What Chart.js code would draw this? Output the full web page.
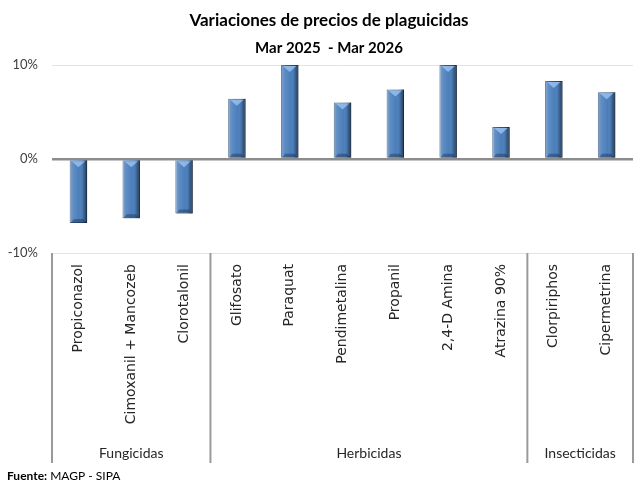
<!DOCTYPE html>
<html>
<head>
<meta charset="utf-8">
<script src="https://cdn.jsdelivr.net/npm/chart.js@4.4.1/dist/chart.umd.min.js"></script>
<style>
  html, body { margin: 0; padding: 0; background: #fff; }
  #wrap { width: 635px; height: 481px; }
</style>
</head>
<body>
<div id="wrap"><canvas id="mycanvas"></canvas></div>
<script>
// datos (variacion % mar 2025 - mar 2026)
var productos = ['Propiconazol', 'Cimoxanil + Mancozeb', 'Clorotalonil', 'Glifosato', 'Paraquat',
  'Pendimetalina', 'Propanil', '2,4-D Amina', 'Atrazina 90%', 'Clorpiriphos', 'Cipermetrina'];
var variacion = [-6.8, -6.3, -5.8, 6.4, 10, 6.0, 7.4, 10, 3.4, 8.3, 7.1];
var grupos = ['Fungicidas', 'Herbicidas', 'Insecticidas'];
var productosPorGrupo = [3, 6, 2];
var yMin = -10, yMax = 10, yPaso = 10;
var titulo = 'Variaciones de precios de plaguicidas';
var subtitulo = 'Mar 2025  - Mar 2026';

var barras3d = {
  id: 'barras3d',
  afterDatasetsDraw: function(chart) {
    var ctx = chart.ctx, area = chart.chartArea;
    var meta = chart.getDatasetMeta(0);
    ctx.save();
    ctx.beginPath();
    ctx.rect(area.left, area.top, area.right - area.left, area.bottom - area.top);
    ctx.clip();
    meta.data.forEach(function(bar) {
      var p = bar.getProps(['x', 'y', 'base', 'width'], true);
      var l = p.x - p.width / 2, r = p.x + p.width / 2;
      var t = Math.max(Math.min(p.y, p.base), area.top), b = Math.max(p.y, p.base);
      var g = ctx.createLinearGradient(l, 0, r, 0);
      g.addColorStop(0, 'rgba(255,255,255,0.30)');
      g.addColorStop(0.2, 'rgba(255,255,255,0.12)');
      g.addColorStop(0.55, 'rgba(255,255,255,0)');
      g.addColorStop(0.8, 'rgba(0,0,0,0.18)');
      g.addColorStop(1, 'rgba(0,0,0,0.55)');
      ctx.fillStyle = g;
      ctx.fillRect(l, t, r - l, b - t);
      // bisel superior
      ctx.fillStyle = 'rgba(160,200,245,0.75)';
      ctx.beginPath();
      ctx.moveTo(l + 2, t + 1);
      ctx.lineTo(r - 2, t + 1);
      ctx.lineTo(p.x, t + 7);
      ctx.closePath();
      ctx.fill();
      // bisel inferior
      ctx.fillStyle = 'rgba(10,30,60,0.35)';
      ctx.beginPath();
      ctx.moveTo(l + 1, b);
      ctx.lineTo(r - 1, b);
      ctx.lineTo(r - 4, b - 4);
      ctx.lineTo(l + 4, b - 4);
      ctx.closePath();
      ctx.fill();
    });
    ctx.restore();
  }
};

var textos = {
  id: 'textos',
  afterDraw: function(chart) {
    var ctx = chart.ctx, xs = chart.scales.x;
    var top = chart.chartArea.bottom, bottom = xs.bottom;
    var bordes = [xs.left];
    var idx = 0;
    productosPorGrupo.forEach(function(n, gi) {
      idx += n;
      if (gi < productosPorGrupo.length - 1) {
        bordes.push((xs.getPixelForValue(idx - 1) + xs.getPixelForValue(idx)) / 2);
      }
    });
    bordes.push(xs.right);
    ctx.save();
    ctx.strokeStyle = '#9a9a9a';
    ctx.lineWidth = 2;
    bordes.forEach(function(x) {
      ctx.beginPath();
      ctx.moveTo(x, top);
      ctx.lineTo(x, bottom);
      ctx.stroke();
    });
    ctx.fillStyle = '#262626';
    ctx.font = '14px Lato';
    ctx.textAlign = 'center';
    ctx.textBaseline = 'middle';
    grupos.forEach(function(gname, gi) {
      ctx.fillText(gname, (bordes[gi] + bordes[gi + 1]) / 2, bottom - 10);
    });
    // titulo
    ctx.fillStyle = '#000';
    ctx.font = 'bold 17px Lato';
    ctx.fillText(titulo, 329, 21);
    ctx.font = 'bold 15px Lato';
    ctx.fillText(subtitulo, 329, 48);
    // fuente
    ctx.textAlign = 'left';
    ctx.font = 'bold 12px Lato';
    ctx.fillText('Fuente:', 7, 476);
    var w = ctx.measureText('Fuente:').width;
    ctx.font = '12px Lato';
    ctx.fillText(' MAGP - SIPA', 7 + w, 476);
    ctx.restore();
  }
};

var ctx = document.getElementById('mycanvas');
var grafico = new Chart(ctx, {
  type: 'bar',
  data: {
    labels: productos,
    datasets: [{
      data: variacion,
      backgroundColor: '#4a7ebb',
      borderColor: '#2b4e7a',
      borderWidth: 1,
      barPercentage: 0.33,
      categoryPercentage: 1
    }]
  },
  options: {
    responsive: true,
    maintainAspectRatio: false,
    animation: false,
    layout: { padding: { left: 0, right: 2, top: 65, bottom: 18 } },
    plugins: {
      legend: { display: false },
      tooltip: { enabled: false }
    },
    scales: {
      x: {
        grid: { display: false },
        border: { display: false },
        ticks: {
          autoSkip: false,
          minRotation: 90,
          maxRotation: 90,
          padding: 3,
          color: '#262626',
          font: { family: 'DejaVu Sans', size: 14 }
        },
        afterFit: function(scale) { scale.height = 210; }
      },
      y: {
        min: yMin,
        max: yMax,
        border: { display: false },
        grid: {
          drawTicks: false,
          color: function(c) { return c.tick.value === 0 ? '#8c8c8c' : '#e3e3e3'; },
          lineWidth: function(c) { return c.tick.value === 0 ? 2.5 : 1; }
        },
        ticks: {
          stepSize: yPaso,
          padding: 14,
          color: '#404040',
          font: { family: 'Lato', size: 13 },
          callback: function(v) { return v + '%'; }
        },
        afterFit: function(scale) { scale.width = 52; }
      }
    }
  },
  plugins: [barras3d, textos]
});
</script>
</body>
</html>
